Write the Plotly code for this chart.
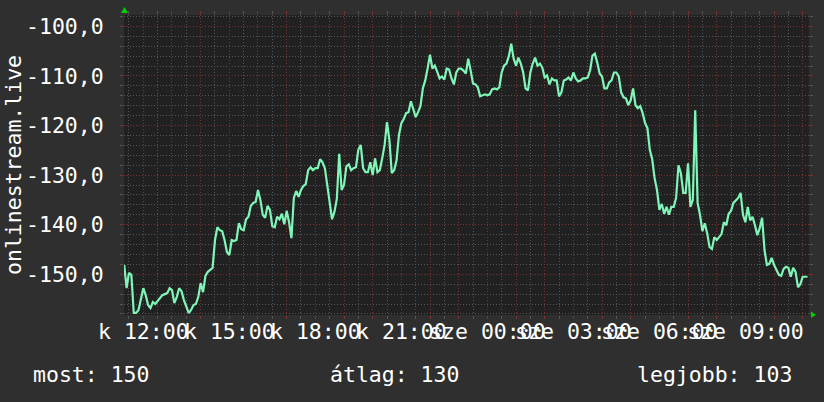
import plotly.graph_objects as go
import pandas as pd

# ---- data -------------------------------------------------------------
start_time = "2024-01-02 11:20"      # kedd (Tuesday)
step = "5min"
values = [
    -148.1, -152.8, -149.7, -150.1, -157.8, -157.8, -157.2, -154.6, -152.8, -154.2,
    -156.2, -156.8, -155.6, -156.0, -155.4, -154.6, -154.2, -154.0, -153.8, -152.8,
    -153.2, -155.8, -154.6, -152.8, -153.4, -155.2, -156.4, -157.8, -157.2, -156.2,
    -156.0, -154.6, -151.8, -153.6, -150.3, -149.5, -149.1, -148.7, -143.1, -140.5,
    -141.1, -141.3, -143.1, -145.5, -146.1, -143.1, -143.3, -143.1, -139.7, -140.9,
    -141.1, -138.9, -138.4, -136.2, -135.6, -135.4, -133.0, -135.0, -138.0, -138.6,
    -136.2, -137.0, -140.3, -140.5, -138.4, -138.9, -137.8, -139.9, -137.2, -139.5,
    -142.7, -134.6, -133.2, -134.4, -133.0, -132.2, -131.8, -129.0, -128.4, -129.0,
    -128.6, -128.6, -126.8, -127.4, -128.6, -132.0, -136.0, -138.9, -137.4, -134.8,
    -125.7, -133.0, -132.0, -128.2, -127.8, -129.0, -128.6, -128.4, -124.9, -123.9,
    -128.6, -129.4, -129.4, -127.4, -130.0, -126.6, -129.4, -129.0, -126.6, -123.9,
    -119.3, -122.9, -129.6, -129.0, -127.0, -121.9, -119.5, -118.7, -117.5, -117.3,
    -115.1, -116.9, -118.3, -117.3, -116.1, -112.5, -110.9, -108.5, -105.7, -108.5,
    -107.9, -109.1, -110.5, -110.1, -110.7, -108.5, -108.7, -110.5, -111.7, -109.3,
    -108.5, -108.5, -108.9, -109.5, -106.5, -108.9, -111.5, -111.7, -112.3, -114.1,
    -113.9, -113.7, -113.9, -113.7, -112.7, -112.5, -112.7, -112.3, -109.3, -107.9,
    -107.5, -106.0, -103.5, -106.5, -107.9, -106.3, -107.5, -109.3, -112.5, -112.9,
    -109.3, -107.5, -106.3, -107.9, -107.5, -108.3, -110.3, -109.9, -111.7, -110.5,
    -110.9, -110.9, -114.1, -113.3, -110.9, -110.7, -110.3, -110.9, -109.3, -110.5,
    -111.1, -110.9, -110.5, -110.5, -110.3, -108.9, -105.9, -105.5, -107.3, -109.5,
    -110.1, -112.5, -112.5, -111.3, -110.9, -109.3, -109.3, -110.1, -113.3, -114.3,
    -114.5, -115.9, -114.9, -112.5, -115.9, -116.5, -116.1, -117.5, -119.5, -120.5,
    -124.9, -126.8, -130.6, -133.0, -137.0, -135.8, -137.8, -136.4, -138.0, -136.4,
    -136.4, -134.6, -128.0, -129.6, -133.6, -133.6, -127.6, -136.4, -135.0, -116.9,
    -135.6, -138.0, -141.3, -139.7, -141.7, -144.5, -144.9, -142.5, -143.1, -142.5,
    -141.9, -139.5, -140.1, -137.8, -137.2, -135.6, -135.0, -134.6, -133.6, -138.0,
    -139.5, -136.4, -139.1, -138.4, -140.1, -142.1, -140.7, -138.6, -145.1, -148.1,
    -147.9, -146.7, -148.1, -149.1, -150.1, -150.3, -148.9, -148.5, -148.7, -150.5,
    -148.7, -149.5, -152.6, -152.0, -150.5, -150.5, -150.5,
]
times = pd.date_range(start_time, periods=len(values), freq=step)

x_range = ["2024-01-02 11:19:36", "2024-01-03 11:13:08"]
y_range = [-158.21, -97.70]

hour_ticks = pd.date_range("2024-01-02 12:00", "2024-01-03 11:00", freq="1h")
label_hours = ["2024-01-02 12:00", "2024-01-02 15:00", "2024-01-02 18:00", "2024-01-02 21:00",
               "2024-01-03 00:00", "2024-01-03 03:00", "2024-01-03 06:00", "2024-01-03 09:00"]
label_texts = ["k 12:00", "k 15:00", "k 18:00", "k 21:00",
               "sze 00:00", "sze 03:00", "sze 06:00", "sze 09:00"]

y_ticks = [-150, -140, -130, -120, -110, -100]
y_tick_labels = ["-150,0", "-140,0", "-130,0", "-120,0", "-110,0", "-100,0"]

y_title = "onlinestream.live"
stat_texts = ["most: 150", "átlag: 130", "legjobb: 103"]

# ---- style --------------------------------------------------------------
FONT = "DejaVu Sans Mono"
FS = 21.5
TXT = "#ffffff"
BG = "#2f2f2f"
PLOT_BG = "#212121"
MAJOR = "#7a3434"
MINOR = "#555555"
LINE = "#80f5b8"
ARROW = "#00d000"

lbl_map = dict(zip(pd.to_datetime(label_hours), label_texts))
x_ticktext = [lbl_map.get(t, "") for t in hour_ticks]

fig = go.Figure()
fig.add_trace(go.Scatter(x=times, y=values, mode="lines",
                         line=dict(color=LINE, width=2.2), hoverinfo="skip"))

W, H = 824, 402
ml, mr, mt, mb = 124, 15, 15, 87

fig.update_layout(
    width=W, height=H,
    margin=dict(l=ml, r=mr, t=mt, b=mb, pad=0, autoexpand=False),
    paper_bgcolor=BG, plot_bgcolor=PLOT_BG,
    showlegend=False,
    font=dict(family=FONT, size=FS, color=TXT),
    xaxis=dict(
        type="date", range=x_range, tickmode="array", automargin=False,
        tickvals=list(hour_ticks), ticktext=x_ticktext, tickangle=0,
        showgrid=True, gridcolor=MAJOR, griddash="1px,2px", gridwidth=1,
        ticks="outside", ticklen=3, tickcolor=MAJOR, mirror="ticks",
        ticklabelstandoff=-6,
        tickfont=dict(family=FONT, size=FS, color=TXT),
        zeroline=False, showline=False, fixedrange=True,
        minor=dict(dtick=1800000, tick0="2024-01-02 00:30", showgrid=True,
                   gridcolor=MINOR, griddash="1px,2px", gridwidth=1,
                   ticks="outside", ticklen=3, tickcolor=MINOR),
    ),
    yaxis=dict(
        range=y_range, tickmode="array", tickvals=y_ticks, ticktext=y_tick_labels,
        automargin=False,
        showgrid=True, gridcolor=MAJOR, griddash="1px,2px", gridwidth=1,
        ticks="outside", ticklen=3, tickcolor=MAJOR, mirror="ticks",
        ticklabelstandoff=12,
        tickfont=dict(family=FONT, size=FS, color=TXT),
        zeroline=False, showline=False, fixedrange=True,
        minor=dict(dtick=2, tick0=-100, showgrid=True,
                   gridcolor=MINOR, griddash="1px,2px", gridwidth=1,
                   ticks="outside", ticklen=3, tickcolor=MINOR),
    ),
)

pw = W - ml - mr
ph = H - mt - mb

def px_x(p):
    return (p - ml) / pw

def px_y(p):
    return (H - mb - p) / ph

annotations = [
    dict(text=y_title, xref="paper", yref="paper", x=px_x(13), y=0.5,
         textangle=-90, showarrow=False, xanchor="center", yanchor="middle",
         font=dict(family=FONT, size=FS, color=TXT)),
    dict(text=stat_texts[0], xref="paper", yref="paper", x=px_x(32), y=px_y(374),
         showarrow=False, xanchor="left", yanchor="middle", borderpad=0,
         font=dict(family=FONT, size=FS, color=TXT)),
    dict(text=stat_texts[1], xref="paper", yref="paper", x=px_x(329), y=px_y(374),
         showarrow=False, xanchor="left", yanchor="middle", borderpad=0,
         font=dict(family=FONT, size=FS, color=TXT)),
    dict(text=stat_texts[2], xref="paper", yref="paper", x=px_x(636), y=px_y(374),
         showarrow=False, xanchor="left", yanchor="middle", borderpad=0,
         font=dict(family=FONT, size=FS, color=TXT)),
]
fig.update_layout(annotations=annotations)

shapes = [
    dict(type="path", xref="paper", yref="paper", xsizemode="pixel", ysizemode="pixel",
         xanchor=0, yanchor=1, path="M -3,2 L 4,2 L 0.5,8 Z",
         fillcolor=ARROW, line=dict(width=0), layer="above"),
    dict(type="path", xref="paper", yref="paper", xsizemode="pixel", ysizemode="pixel",
         xanchor=1, yanchor=0, path="M 2,3.5 L 2,-3 L 7,0.25 Z",
         fillcolor=ARROW, line=dict(width=0), layer="above"),
]
fig.update_layout(shapes=shapes)

fig.write_html(
    "out.html",
    config={"displayModeBar": False, "staticPlot": True},
    post_script="document.body.style.margin='0';document.body.style.overflow='hidden';",
)
